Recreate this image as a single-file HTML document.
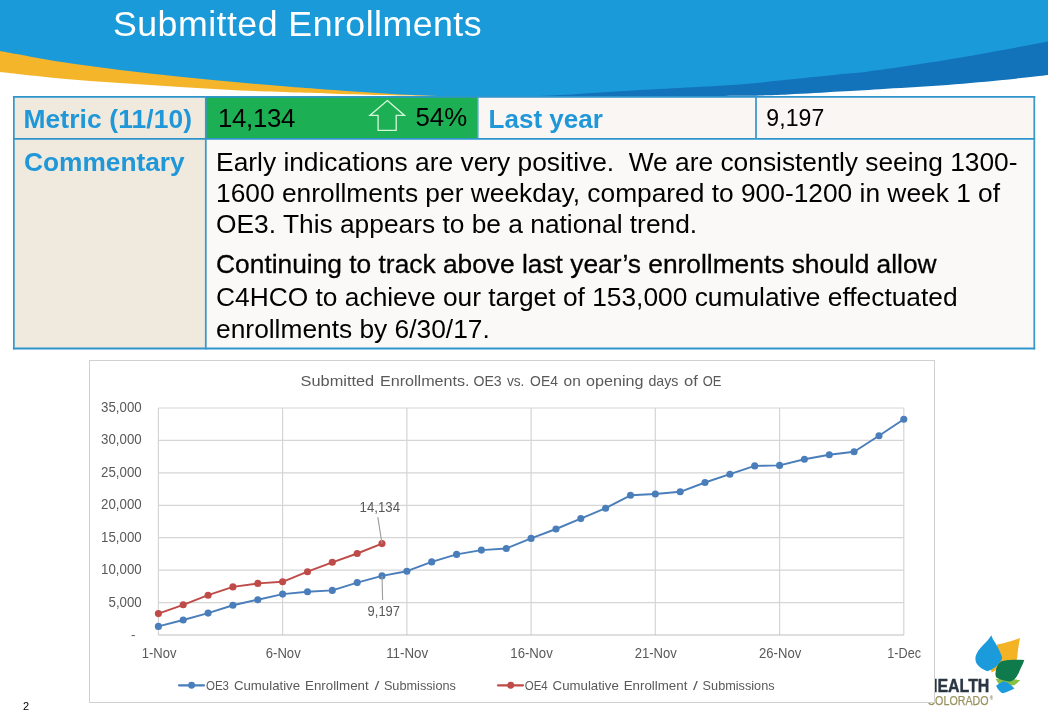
<!DOCTYPE html>
<html lang="en">
<head>
<meta charset="utf-8">
<title>Submitted Enrollments</title>
<style>
html,body{margin:0;padding:0;}
body{width:1048px;height:717px;position:relative;overflow:hidden;background:#fff;
  font-family:"Liberation Sans",Arial,sans-serif;color:#000;}
.abs{position:absolute;}
#hdr{left:0;top:0;width:1048px;height:110px;}
#title{left:113.3px;top:1.1px;height:46px;line-height:46px;font-size:34.5px;color:#fff;white-space:nowrap;
  transform-origin:0 50%;transform:scaleX(1.035);letter-spacing:0.45px;}
/* table */
#tbl{left:13px;top:96px;width:1022.2px;height:253.4px;}
#tblbg{left:0;top:90px;width:1048px;height:265px;}
.cell{position:absolute;box-sizing:border-box;white-space:nowrap;}
.lab{color:#1f97d8;font-weight:bold;font-size:26px;}
.val{font-size:26.33px;}
#c11{left:1.7px;top:1.7px;width:190.2px;height:40.3px;}
#c12{left:193.7px;top:1.7px;width:270.6px;height:40.3px;}
#c13{left:465.6px;top:1.7px;width:276.1px;height:40.3px;}
#c14{left:743.4px;top:1.7px;width:277.1px;height:40.3px;}
#c21{left:1.7px;top:43.8px;width:190.2px;height:207.8px;}
#c22{left:193.7px;top:43.8px;width:826.8px;height:207.8px;}
.t{position:absolute;white-space:nowrap;line-height:1;}
#chart{left:89px;top:360px;width:846px;height:343px;}
#logo{left:900px;top:620px;width:148px;height:97px;}
#pg{left:23px;top:699.8px;font-size:11px;line-height:12px;color:#000;}
</style>
</head>
<body>

<!-- header swoosh -->
<svg id="hdr" class="abs" viewBox="0 0 1048 110">
  <path fill="#f5b52a" d="M0,40 L0,72 C10.0,73.1 40.0,76.6 60.0,78.4 C80.0,80.2 100.0,81.6 120.0,83.0 C140.0,84.4 160.0,85.8 180.0,87.0 C200.0,88.2 220.0,89.5 240.0,90.4 C260.0,91.3 283.3,92.0 300.0,92.6 C316.7,93.2 323.3,93.4 340.0,93.9 C356.7,94.4 380.8,95.0 400.0,95.4 C419.2,95.8 445.8,96.3 455.0,96.5 L455,80 Z"/>
  <path fill="#1273ba" d="M500,80 L500,97 C508.5,97.0 527.7,96.9 551.0,96.8 C574.3,96.7 608.5,96.8 640.0,96.6 C671.5,96.4 715.3,96.1 740.0,95.8 C764.7,95.5 771.3,95.2 788.0,94.5 C804.7,93.8 824.7,92.5 840.0,91.6 C855.3,90.7 863.3,90.2 880.0,89.2 C896.7,88.2 920.0,87.1 940.0,85.6 C960.0,84.1 982.0,82.1 1000.0,80.3 C1018.0,78.5 1040.0,75.9 1048.0,75.0 L1048,30 Z"/>
  <path fill="#1b9ad9" d="M0,0 L1048,0 L1048,41.5 C1040.0,43.0 1018.0,47.2 1000.0,50.5 C982.0,53.8 962.0,57.5 940.0,61.0 C918.0,64.5 884.7,69.3 868.0,71.5 C851.3,73.7 854.7,72.8 840.0,74.3 C825.3,75.8 796.7,78.9 780.0,80.6 C763.3,82.3 763.3,82.8 740.0,84.4 C716.7,86.0 671.5,88.1 640.0,90.0 C608.5,91.9 574.3,94.5 551.0,95.6 C527.7,96.7 516.8,96.7 500.0,96.8 C483.2,96.9 466.7,96.6 450.0,96.2 C433.3,95.8 418.3,95.3 400.0,94.4 C381.7,93.5 356.7,91.7 340.0,90.6 C323.3,89.5 316.7,88.9 300.0,87.6 C283.3,86.3 260.0,84.4 240.0,82.6 C220.0,80.8 200.0,78.9 180.0,76.8 C160.0,74.7 140.0,72.5 120.0,70.0 C100.0,67.5 80.0,65.0 60.0,61.8 C40.0,58.6 10.0,52.8 0.0,51.0 Z"/>
</svg>
<div id="title" class="abs">Submitted Enrollments</div>

<!-- logo (drawn under the chart) -->
<svg id="logo" class="abs" viewBox="900 620 148 97">
  <path fill="#f4b324" d="M997.1,644.6 C1005,643 1013,641 1020,638 C1018.6,645 1017.6,652 1017.2,658.1 L1015.7,662 L1000,668 L991.6,672.4 L990,664 Z"/>
  <path fill="#8cc043" d="M995.6,679 L1020.7,679.6 C1018.5,682 1016.5,684 1014.2,685.3 L1000,686 Z"/>
  <path fill="#1b9bdb" d="M991.3,635.2 C992.5,638 993,639.5 994.1,641.1 C996,644 999.5,650 1001.7,656.1 C1002.3,658 1002,659.5 1001.2,660.3 C999.5,663 997.5,665.5 995.1,667.2 C992.5,669 990,670.5 987.1,671.3 C983,669.5 979,667 977.1,664.2 C975.5,662 975.2,659.5 975.5,657.1 C976,655 976.8,653 978.1,651.1 C980,648.3 982.5,646 985.1,643.1 C987.5,640.5 989.8,638 991.3,635.2 Z"/>
  <path fill="#0f7a4c" d="M1024.3,660.1 C1023.3,663 1022.2,665.5 1020.7,668.2 C1019.5,671.5 1018,674.5 1016.2,677.2 C1014.8,679 1013.2,680.4 1011.2,681.2 C1009,681.6 1007,681.3 1005.2,680.7 C1002,680 998.5,679 996.1,677.2 C995.4,675.5 995.3,674 995.6,672.2 C995.8,670 996.3,668 997.1,666.2 C998.3,663.8 1000,662 1002.2,661.1 C1005,660.3 1007.5,660 1010.2,659.9 C1015,659.7 1019.8,659.9 1024.3,660.1 Z"/>
  <path fill="#1b9bdb" d="M1003.7,681.2 C1005.8,681.8 1007.6,682.7 1009.2,683.7 C1011.2,685 1013,686.7 1014.4,688.6 C1010.5,690.7 1006.5,692.4 1002.2,693.3 C999.5,691.3 997.4,688.7 996.1,685.7 C998.5,683.8 1001,682.2 1003.7,681.2 Z"/>
  <text x="925.9" y="692" font-family="Liberation Sans, Arial, sans-serif" font-weight="bold" font-size="19" fill="#2a3644" stroke="#2a3644" stroke-width="0.4" textLength="63.5" lengthAdjust="spacingAndGlyphs">HEALTH</text>
  <text x="927.4" y="705.3" font-family="Liberation Sans, Arial, sans-serif" font-size="12.5" fill="#9a9260" stroke="#9a9260" stroke-width="0.25" textLength="61.2" lengthAdjust="spacingAndGlyphs">COLORADO</text>
  <text x="989.8" y="700.4" font-family="Liberation Sans, Arial, sans-serif" font-size="4.6" font-weight="bold" fill="#8d8768">®</text>
</svg>

<!-- table -->
<svg id="tblbg" class="abs" viewBox="0 90 1048 265">
  <rect x="13.8" y="96.8" width="192" height="251.7" fill="#f0e9de"/>
  <rect x="205.8" y="96.8" width="271.9" height="42.1" fill="#1daf53"/>
  <rect x="477.7" y="96.8" width="556.6" height="42.1" fill="#f9f6f4"/>
  <rect x="205.8" y="138.9" width="828.5" height="209.6" fill="#fbf9f8"/>
  <g stroke="#2e95cc" stroke-width="1.9" fill="none">
    <line x1="12.9" y1="96.85" x2="1035.2" y2="96.85"/>
    <line x1="12.9" y1="138.9" x2="1035.2" y2="138.9"/>
    <line x1="12.9" y1="348.5" x2="1035.2" y2="348.5"/>
  </g>
  <g stroke="#3a97ca" stroke-width="1.75" fill="none">
    <line x1="13.85" y1="96" x2="13.85" y2="349.4"/>
    <line x1="205.8" y1="96" x2="205.8" y2="349.4"/>
    <line x1="1034.3" y1="96" x2="1034.3" y2="349.4"/>
    <line x1="756" y1="96" x2="756" y2="139"/>
  </g>
  <line x1="477.9" y1="96" x2="477.9" y2="139" stroke="#3a97ca" stroke-width="1.2"/>
</svg>
<div id="tbl" class="abs">
  <div id="c11" class="cell lab"><span class="t" style="left:8.7px;top:8.2px;font-size:26.4px;letter-spacing:0.12px;">Metric (11/10)</span></div>
  <div id="c12" class="cell val"><span class="t" style="left:11.3px;top:8.2px;font-size:25.8px;letter-spacing:-0.3px;">14,134</span>
    <svg class="abs" style="left:160px;top:0;" width="50" height="40" viewBox="366.5 98 50 40"><path d="M386.8,100.6 L404,115.4 L395.7,115.4 L395.7,130.4 L377.6,130.4 L377.6,115.4 L369.4,115.4 Z" fill="none" stroke="#d5f7dc" stroke-width="1.3" stroke-linejoin="miter"/></svg>
    <span class="t" style="left:208.8px;top:7.6px;font-size:25.8px;">54%</span></div>
  <div id="c13" class="cell lab"><span class="t" style="left:10px;top:8.4px;">Last year</span></div>
  <div id="c14" class="cell val"><span class="t" style="left:9.8px;top:9.5px;font-size:23px;letter-spacing:0.15px;">9,197</span></div>
  <div id="c21" class="cell lab"><span class="t" style="left:9.3px;top:9px;font-size:26.3px;">Commentary</span></div>
  <div id="c22" class="cell val">
    <span class="t" id="l1" style="left:9.4px;top:9px;">Early indications are very positive.&nbsp; We are consistently seeing 1300-</span>
    <span class="t" id="l2" style="left:9.4px;top:40.3px;">1600 enrollments per weekday, compared to 900-1200 in week 1 of</span>
    <span class="t" id="l3" style="left:9.4px;top:71.5px;">OE3. This appears to be a national trend.</span>
    <span class="t" id="l4" style="left:9.4px;top:111.7px;-webkit-text-stroke:0.3px #000;">Continuing to track above last year’s enrollments should allow</span>
    <span class="t" id="l5" style="left:9.4px;top:144.2px;">C4HCO to achieve our target of 153,000 cumulative effectuated</span>
    <span class="t" id="l6" style="left:9.4px;top:175.9px;">enrollments by 6/30/17.</span>
  </div>
</div>

<!-- chart -->
<svg id="chart" class="abs" viewBox="89 360 846 343" font-family="Liberation Sans, Arial, sans-serif">
  <rect x="89.5" y="360.5" width="845" height="342" fill="#fff" stroke="#d0d0d0" stroke-width="1"/>
  <line x1="158.4" y1="408.0" x2="903.8" y2="408.0" stroke="#d5d5d5" stroke-width="1.2"/>
  <line x1="158.4" y1="440.4" x2="903.8" y2="440.4" stroke="#d5d5d5" stroke-width="1.2"/>
  <line x1="158.4" y1="472.9" x2="903.8" y2="472.9" stroke="#d5d5d5" stroke-width="1.2"/>
  <line x1="158.4" y1="505.3" x2="903.8" y2="505.3" stroke="#d5d5d5" stroke-width="1.2"/>
  <line x1="158.4" y1="537.7" x2="903.8" y2="537.7" stroke="#d5d5d5" stroke-width="1.2"/>
  <line x1="158.4" y1="570.1" x2="903.8" y2="570.1" stroke="#d5d5d5" stroke-width="1.2"/>
  <line x1="158.4" y1="602.6" x2="903.8" y2="602.6" stroke="#d5d5d5" stroke-width="1.2"/>
  <line x1="158.4" y1="408.0" x2="158.4" y2="635.0" stroke="#d5d5d5" stroke-width="1.2"/>
  <line x1="282.6" y1="408.0" x2="282.6" y2="635.0" stroke="#d5d5d5" stroke-width="1.2"/>
  <line x1="406.9" y1="408.0" x2="406.9" y2="635.0" stroke="#d5d5d5" stroke-width="1.2"/>
  <line x1="531.1" y1="408.0" x2="531.1" y2="635.0" stroke="#d5d5d5" stroke-width="1.2"/>
  <line x1="655.3" y1="408.0" x2="655.3" y2="635.0" stroke="#d5d5d5" stroke-width="1.2"/>
  <line x1="779.6" y1="408.0" x2="779.6" y2="635.0" stroke="#d5d5d5" stroke-width="1.2"/>
  <line x1="903.8" y1="408.0" x2="903.8" y2="635.0" stroke="#d5d5d5" stroke-width="1.2"/>
  <line x1="158.4" y1="635.0" x2="903.8" y2="635.0" stroke="#bfbfbf" stroke-width="1"/>
  <text x="101.1" y="412.0" font-size="14.2" fill="#595959" textLength="40.6" lengthAdjust="spacingAndGlyphs">35,000</text>
  <text x="101.1" y="444.4" font-size="14.2" fill="#595959" textLength="40.6" lengthAdjust="spacingAndGlyphs">30,000</text>
  <text x="101.1" y="476.9" font-size="14.2" fill="#595959" textLength="40.6" lengthAdjust="spacingAndGlyphs">25,000</text>
  <text x="101.1" y="509.3" font-size="14.2" fill="#595959" textLength="40.6" lengthAdjust="spacingAndGlyphs">20,000</text>
  <text x="101.1" y="541.7" font-size="14.2" fill="#595959" textLength="40.6" lengthAdjust="spacingAndGlyphs">15,000</text>
  <text x="101.1" y="574.1" font-size="14.2" fill="#595959" textLength="40.6" lengthAdjust="spacingAndGlyphs">10,000</text>
  <text x="108.5" y="606.6" font-size="14.2" fill="#595959" textLength="33.2" lengthAdjust="spacingAndGlyphs">5,000</text>
  <text x="131" y="639.4" font-size="13.5" fill="#595959">-</text>
  <text x="141.8" y="658.1" font-size="14.1" fill="#595959" textLength="34.7" lengthAdjust="spacingAndGlyphs">1-Nov</text>
  <text x="265.8" y="658.1" font-size="14.1" fill="#595959" textLength="34.9" lengthAdjust="spacingAndGlyphs">6-Nov</text>
  <text x="386.2" y="658.1" font-size="14.1" fill="#595959" textLength="42.0" lengthAdjust="spacingAndGlyphs">11-Nov</text>
  <text x="510.3" y="658.1" font-size="14.1" fill="#595959" textLength="42.5" lengthAdjust="spacingAndGlyphs">16-Nov</text>
  <text x="634.7" y="658.1" font-size="14.1" fill="#595959" textLength="42.1" lengthAdjust="spacingAndGlyphs">21-Nov</text>
  <text x="759.1" y="658.1" font-size="14.1" fill="#595959" textLength="42.1" lengthAdjust="spacingAndGlyphs">26-Nov</text>
  <text x="887.3" y="658.1" font-size="14.1" fill="#595959" textLength="33.7" lengthAdjust="spacingAndGlyphs">1-Dec</text>
  <g font-size="15" fill="#595959"><text x="300.6" y="386.0" textLength="73.6" lengthAdjust="spacingAndGlyphs">Submitted</text><text x="379.9" y="386.0" textLength="89.7" lengthAdjust="spacingAndGlyphs">Enrollments.</text><text x="473.4" y="386.0" textLength="28.3" lengthAdjust="spacingAndGlyphs">OE3</text><text x="506.9" y="386.0" textLength="17.5" lengthAdjust="spacingAndGlyphs">vs.</text><text x="530.1" y="386.0" textLength="27.8" lengthAdjust="spacingAndGlyphs">OE4</text><text x="563.6" y="386.0" textLength="17.2" lengthAdjust="spacingAndGlyphs">on</text><text x="586.0" y="386.0" textLength="57.5" lengthAdjust="spacingAndGlyphs">opening</text><text x="648.4" y="386.0" textLength="30.0" lengthAdjust="spacingAndGlyphs">days</text><text x="684.1" y="386.0" textLength="13.8" lengthAdjust="spacingAndGlyphs">of</text><text x="702.7" y="386.0" textLength="18.7" lengthAdjust="spacingAndGlyphs">OE</text></g>
  <polyline points="158.4,626.4 183.2,620.0 208.1,613.1 232.9,605.3 257.8,599.7 282.6,594.1 307.5,591.7 332.3,590.4 357.2,582.6 382.0,575.9 406.9,571.2 431.7,561.9 456.6,554.4 481.4,550.1 506.3,548.5 531.1,538.4 556.0,529.0 580.8,518.6 605.6,508.2 630.5,495.3 655.3,494.0 680.2,491.8 705.0,482.5 729.9,474.2 754.7,465.9 779.6,465.4 804.4,459.2 829.3,454.7 854.1,451.7 879.0,435.7 903.8,419.2" fill="none" stroke="#4a7ebb" stroke-width="1.95" stroke-linejoin="round" stroke-linecap="round"/>
  <circle cx="158.4" cy="626.4" r="3.55" fill="#4a7ebb"/>
  <circle cx="183.2" cy="620.0" r="3.55" fill="#4a7ebb"/>
  <circle cx="208.1" cy="613.1" r="3.55" fill="#4a7ebb"/>
  <circle cx="232.9" cy="605.3" r="3.55" fill="#4a7ebb"/>
  <circle cx="257.8" cy="599.7" r="3.55" fill="#4a7ebb"/>
  <circle cx="282.6" cy="594.1" r="3.55" fill="#4a7ebb"/>
  <circle cx="307.5" cy="591.7" r="3.55" fill="#4a7ebb"/>
  <circle cx="332.3" cy="590.4" r="3.55" fill="#4a7ebb"/>
  <circle cx="357.2" cy="582.6" r="3.55" fill="#4a7ebb"/>
  <circle cx="382.0" cy="575.9" r="3.55" fill="#4a7ebb"/>
  <circle cx="406.9" cy="571.2" r="3.55" fill="#4a7ebb"/>
  <circle cx="431.7" cy="561.9" r="3.55" fill="#4a7ebb"/>
  <circle cx="456.6" cy="554.4" r="3.55" fill="#4a7ebb"/>
  <circle cx="481.4" cy="550.1" r="3.55" fill="#4a7ebb"/>
  <circle cx="506.3" cy="548.5" r="3.55" fill="#4a7ebb"/>
  <circle cx="531.1" cy="538.4" r="3.55" fill="#4a7ebb"/>
  <circle cx="556.0" cy="529.0" r="3.55" fill="#4a7ebb"/>
  <circle cx="580.8" cy="518.6" r="3.55" fill="#4a7ebb"/>
  <circle cx="605.6" cy="508.2" r="3.55" fill="#4a7ebb"/>
  <circle cx="630.5" cy="495.3" r="3.55" fill="#4a7ebb"/>
  <circle cx="655.3" cy="494.0" r="3.55" fill="#4a7ebb"/>
  <circle cx="680.2" cy="491.8" r="3.55" fill="#4a7ebb"/>
  <circle cx="705.0" cy="482.5" r="3.55" fill="#4a7ebb"/>
  <circle cx="729.9" cy="474.2" r="3.55" fill="#4a7ebb"/>
  <circle cx="754.7" cy="465.9" r="3.55" fill="#4a7ebb"/>
  <circle cx="779.6" cy="465.4" r="3.55" fill="#4a7ebb"/>
  <circle cx="804.4" cy="459.2" r="3.55" fill="#4a7ebb"/>
  <circle cx="829.3" cy="454.7" r="3.55" fill="#4a7ebb"/>
  <circle cx="854.1" cy="451.7" r="3.55" fill="#4a7ebb"/>
  <circle cx="879.0" cy="435.7" r="3.55" fill="#4a7ebb"/>
  <circle cx="903.8" cy="419.2" r="3.55" fill="#4a7ebb"/>
  <polyline points="158.4,613.6 183.2,604.8 208.1,595.2 232.9,586.9 257.8,583.4 282.6,581.8 307.5,571.7 332.3,562.3 357.2,553.5 382.0,543.6" fill="none" stroke="#be4b48" stroke-width="1.95" stroke-linejoin="round" stroke-linecap="round"/>
  <circle cx="158.4" cy="613.6" r="3.55" fill="#be4b48"/>
  <circle cx="183.2" cy="604.8" r="3.55" fill="#be4b48"/>
  <circle cx="208.1" cy="595.2" r="3.55" fill="#be4b48"/>
  <circle cx="232.9" cy="586.9" r="3.55" fill="#be4b48"/>
  <circle cx="257.8" cy="583.4" r="3.55" fill="#be4b48"/>
  <circle cx="282.6" cy="581.8" r="3.55" fill="#be4b48"/>
  <circle cx="307.5" cy="571.7" r="3.55" fill="#be4b48"/>
  <circle cx="332.3" cy="562.3" r="3.55" fill="#be4b48"/>
  <circle cx="357.2" cy="553.5" r="3.55" fill="#be4b48"/>
  <circle cx="382.0" cy="543.6" r="3.55" fill="#be4b48"/>
  <line x1="377.8" y1="517.2" x2="382" y2="543.6" stroke="#9c9c9c" stroke-width="1.1"/>
  <line x1="382" y1="575.9" x2="382.6" y2="599.9" stroke="#9c9c9c" stroke-width="1.1"/>
  <text x="359.6" y="511.6" font-size="14.2" fill="#595959" textLength="40.4" lengthAdjust="spacingAndGlyphs">14,134</text>
  <text x="367.6" y="615.8" font-size="14.2" fill="#595959" textLength="32.4" lengthAdjust="spacingAndGlyphs">9,197</text>
  <line x1="179" y1="685.3" x2="204" y2="685.3" stroke="#4a7ebb" stroke-width="2.2" stroke-linecap="round"/><circle cx="191.6" cy="685.3" r="3.45" fill="#4a7ebb"/>
  <g font-size="12.8" fill="#595959"><text x="206.0" y="689.7" textLength="23.0" lengthAdjust="spacingAndGlyphs">OE3</text><text x="233.9" y="689.7" textLength="66.2" lengthAdjust="spacingAndGlyphs">Cumulative</text><text x="305.0" y="689.7" textLength="63.7" lengthAdjust="spacingAndGlyphs">Enrollment</text><text x="374.4" y="689.7" textLength="4.8" lengthAdjust="spacingAndGlyphs">/</text><text x="383.9" y="689.7" textLength="72.0" lengthAdjust="spacingAndGlyphs">Submissions</text></g>
  <line x1="498" y1="685.3" x2="523" y2="685.3" stroke="#be4b48" stroke-width="2.2" stroke-linecap="round"/><circle cx="510.7" cy="685.3" r="3.45" fill="#be4b48"/>
  <g font-size="12.8" fill="#595959"><text x="524.7" y="689.7" textLength="23.0" lengthAdjust="spacingAndGlyphs">OE4</text><text x="552.6" y="689.7" textLength="66.2" lengthAdjust="spacingAndGlyphs">Cumulative</text><text x="623.7" y="689.7" textLength="63.7" lengthAdjust="spacingAndGlyphs">Enrollment</text><text x="693.1" y="689.7" textLength="4.8" lengthAdjust="spacingAndGlyphs">/</text><text x="702.6" y="689.7" textLength="72.0" lengthAdjust="spacingAndGlyphs">Submissions</text></g>
</svg>

<div id="pg" class="abs">2</div>
</body>
</html>
